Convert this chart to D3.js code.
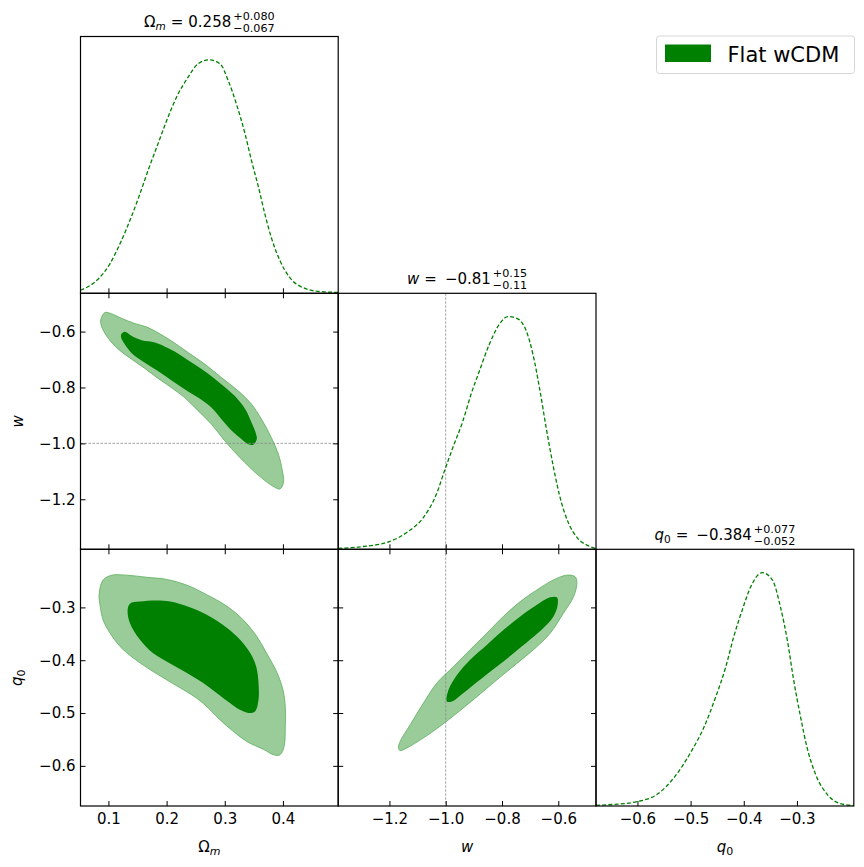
<!DOCTYPE html>
<html>
<head>
<meta charset="utf-8">
<script src="https://cdn.jsdelivr.net/npm/d3@7"></script>
<style>
body { margin: 0; background: #fff; }
text { font-family: "DejaVu Sans", sans-serif; fill: #000; }
</style>
</head>
<body>
<div id="chart"></div>
<script>
// 1D marginals (normalised to peak = 1)
const omGrid = [0.052, 0.082, 0.102, 0.122, 0.139, 0.154, 0.168, 0.185, 0.200, 0.217, 0.237, 0.254, 0.273,
                0.292, 0.306, 0.320, 0.335, 0.346, 0.358, 0.369, 0.380, 0.395, 0.412, 0.438, 0.466, 0.495];
const omDens = [0.013, 0.060, 0.124, 0.224, 0.325, 0.425, 0.525, 0.639, 0.739, 0.840, 0.926, 0.983, 1.0,
                0.983, 0.911, 0.811, 0.682, 0.568, 0.454, 0.339, 0.239, 0.139, 0.067, 0.021, 0.007, 0.004];

const wGrid = [-1.382, -1.294, -1.200, -1.134, -1.081, -1.034, -1.001, -0.975, -0.939, -0.910, -0.880, -0.845,
               -0.809, -0.779, -0.744, -0.714, -0.690, -0.667, -0.643, -0.619, -0.596, -0.566, -0.531, -0.495, -0.466];
const wDens = [0.004, 0.012, 0.033, 0.076, 0.134, 0.234, 0.349, 0.436, 0.551, 0.666, 0.767, 0.881,
               0.968, 1.0, 0.99, 0.939, 0.838, 0.695, 0.522, 0.364, 0.234, 0.119, 0.047, 0.016, 0.003];

const qGrid = [-0.678, -0.644, -0.600, -0.563, -0.531, -0.500, -0.475, -0.453, -0.434, -0.419, -0.403, -0.387,
               -0.365, -0.346, -0.331, -0.318, -0.306, -0.293, -0.281, -0.265, -0.243, -0.218, -0.193];
const qDens = [0.003, 0.007, 0.019, 0.050, 0.122, 0.229, 0.337, 0.466, 0.595, 0.724, 0.839, 0.939,
               1.0, 0.968, 0.853, 0.710, 0.538, 0.380, 0.251, 0.136, 0.050, 0.010, 0.002];

// 2D contours: [x, y] in data units
const omW95 = [[0.087,-0.556],[0.094,-0.532],[0.105,-0.536],[0.122,-0.552],[0.145,-0.571],[0.165,-0.583],
  [0.185,-0.604],[0.208,-0.633],[0.237,-0.675],[0.266,-0.717],[0.294,-0.764],[0.323,-0.812],[0.346,-0.860],
  [0.363,-0.913],[0.380,-0.979],[0.392,-1.038],[0.399,-1.098],[0.401,-1.139],[0.395,-1.163],[0.386,-1.157],
  [0.369,-1.133],[0.346,-1.092],[0.323,-1.044],[0.300,-0.991],[0.277,-0.931],[0.254,-0.883],[0.231,-0.836],
  [0.208,-0.800],[0.185,-0.767],[0.162,-0.731],[0.140,-0.699],[0.117,-0.663],[0.099,-0.622],[0.088,-0.580]];
const omW68 = [[0.122,-0.610],[0.128,-0.601],[0.140,-0.616],[0.157,-0.631],[0.180,-0.639],[0.203,-0.660],
  [0.226,-0.687],[0.249,-0.719],[0.271,-0.750],[0.294,-0.788],[0.317,-0.830],[0.335,-0.877],[0.346,-0.925],
  [0.353,-0.961],[0.355,-0.985],[0.349,-1.005],[0.340,-1.002],[0.329,-0.985],[0.312,-0.955],[0.294,-0.913],
  [0.277,-0.872],[0.254,-0.836],[0.231,-0.806],[0.208,-0.774],[0.185,-0.741],[0.162,-0.711],[0.142,-0.681],
  [0.128,-0.645],[0.122,-0.622]];

const omQ95 = [[0.084,-0.276],[0.091,-0.248],[0.106,-0.239],[0.131,-0.239],[0.166,-0.243],[0.200,-0.247],
  [0.235,-0.258],[0.269,-0.276],[0.304,-0.298],[0.332,-0.324],[0.355,-0.355],[0.372,-0.387],[0.390,-0.424],
  [0.400,-0.456],[0.404,-0.488],[0.404,-0.525],[0.402,-0.563],[0.395,-0.579],[0.384,-0.579],[0.367,-0.569],
  [0.338,-0.554],[0.315,-0.535],[0.292,-0.513],[0.272,-0.491],[0.252,-0.472],[0.229,-0.456],[0.200,-0.437],
  [0.172,-0.418],[0.143,-0.396],[0.120,-0.374],[0.103,-0.349],[0.091,-0.324],[0.086,-0.298]];
const omQ68 = [[0.133,-0.305],[0.137,-0.293],[0.154,-0.289],[0.183,-0.287],[0.206,-0.289],[0.235,-0.298],
  [0.269,-0.314],[0.304,-0.339],[0.326,-0.361],[0.344,-0.387],[0.354,-0.412],[0.358,-0.443],[0.358,-0.475],
  [0.352,-0.497],[0.341,-0.500],[0.326,-0.494],[0.309,-0.481],[0.286,-0.462],[0.263,-0.443],[0.235,-0.424],
  [0.206,-0.406],[0.177,-0.387],[0.154,-0.361],[0.137,-0.330]];

const wQ95 = [[-1.168,-0.566],[-1.162,-0.554],[-1.126,-0.522],[-1.079,-0.481],[-1.031,-0.443],[-0.972,-0.412],
  [-0.913,-0.380],[-0.854,-0.349],[-0.795,-0.317],[-0.735,-0.289],[-0.676,-0.267],[-0.617,-0.248],[-0.570,-0.239],
  [-0.540,-0.242],[-0.534,-0.254],[-0.546,-0.280],[-0.582,-0.311],[-0.629,-0.349],[-0.688,-0.380],[-0.747,-0.406],
  [-0.818,-0.437],[-0.889,-0.469],[-0.960,-0.500],[-1.020,-0.525],[-1.079,-0.547],[-1.138,-0.566],[-1.162,-0.571]];
const wQ68 = [[-0.996,-0.478],[-0.990,-0.456],[-0.960,-0.428],[-0.913,-0.399],[-0.854,-0.371],[-0.795,-0.343],
  [-0.735,-0.317],[-0.676,-0.295],[-0.629,-0.281],[-0.605,-0.281],[-0.602,-0.295],[-0.617,-0.317],[-0.653,-0.339],
  [-0.700,-0.361],[-0.759,-0.387],[-0.818,-0.412],[-0.878,-0.437],[-0.937,-0.462],[-0.978,-0.478]];

const omTicks = [0.1, 0.2, 0.3, 0.4];
const wTicks = [-1.2, -1.0, -0.8, -0.6];
const qTicks = [-0.6, -0.5, -0.4, -0.3];
const refW = -1.0;

const colX = [80.5, 338.2, 596, 853.8];
const rowY = [36.5, 293.3, 549.3, 806];
const green = "#008000", lightGreen = "#99cc99";

const svg = d3.select("#chart").append("svg")
    .attr("width", 864)
    .attr("height", 867);

// scales
const xOm = d3.scaleLinear().domain([0.052, 0.495]).range([colX[0], colX[1]]);
const xW = d3.scaleLinear().domain([-1.382, -0.466]).range([colX[1], colX[2]]);
const xQ = d3.scaleLinear().domain([-0.678, -0.193]).range([colX[2], colX[3]]);
const yW = d3.scaleLinear().domain([-1.379, -0.463]).range([rowY[2], rowY[1]]);
const yQ = d3.scaleLinear().domain([-0.676, -0.190]).range([rowY[3], rowY[2]]);
const yD = r => d3.scaleLinear().domain([0, 1.1]).range([rowY[r + 1], rowY[r]]);

const fmt = d3.format(".1f");

function styleAxis(g) {
  g.select(".domain").remove();
  g.selectAll(".tick line").attr("stroke", "#000").attr("stroke-width", 1);
  g.selectAll("text").attr("font-family", "DejaVu Sans").attr("font-size", 15).attr("fill", "#000");
}

function panel(c, r, x, ticksX, y, ticksY, labelX, labelY) {
  const id = "clip" + c + r;
  svg.append("clipPath").attr("id", id).append("rect")
    .attr("x", colX[c]).attr("y", rowY[r])
    .attr("width", colX[c + 1] - colX[c]).attr("height", rowY[r + 1] - rowY[r]);
  const g = svg.append("g").attr("clip-path", "url(#" + id + ")");

  svg.append("g").attr("transform", `translate(0,${rowY[r + 1]})`)
    .call(d3.axisBottom(x).tickValues(ticksX).tickSize(-5).tickPadding(7).tickFormat(labelX ? fmt : ""))
    .call(styleAxis);
  if (y) {
    svg.append("g").attr("transform", `translate(0,${rowY[r]})`)
      .call(d3.axisTop(x).tickValues(ticksX).tickSize(-5).tickFormat(""))
      .call(styleAxis);
    svg.append("g").attr("transform", `translate(${colX[c]},0)`)
      .call(d3.axisLeft(y).tickValues(ticksY).tickSize(-5).tickPadding(5).tickFormat(labelY ? fmt : ""))
      .call(styleAxis);
    svg.append("g").attr("transform", `translate(${colX[c + 1]},0)`)
      .call(d3.axisRight(y).tickValues(ticksY).tickSize(-5).tickFormat(""))
      .call(styleAxis);
  }
  return g;
}

function border(c, r) {
  svg.append("rect")
    .attr("x", colX[c]).attr("y", rowY[r])
    .attr("width", colX[c + 1] - colX[c]).attr("height", rowY[r + 1] - rowY[r])
    .attr("fill", "none").attr("stroke", "#000").attr("stroke-width", 1.2);
}

function marginal(g, x, y, grid, dens) {
  const line = d3.line().x((d, i) => x(grid[i])).y(d => y(d)).curve(d3.curveMonotoneX);
  g.append("path").datum(dens)
    .attr("fill", "none").attr("stroke", green).attr("stroke-width", 1.3)
    .attr("stroke-dasharray", "4,2.2").attr("d", line);
}

function contours(g, x, y, outer, inner) {
  const area = d3.line().x(d => x(d[0])).y(d => y(d[1])).curve(d3.curveCatmullRomClosed.alpha(0.5));
  g.append("path").datum(outer).attr("d", area)
    .attr("fill", lightGreen).attr("stroke", "#66b366").attr("stroke-width", 0.9);
  g.append("path").datum(inner).attr("d", area).attr("fill", green);
}

function refLine(g, x1, y1, x2, y2) {
  g.append("line").attr("x1", x1).attr("y1", y1).attr("x2", x2).attr("y2", y2)
    .attr("stroke", "#8c8c8c").attr("stroke-width", 0.8).attr("stroke-dasharray", "2.5,1.5");
}

// column 0
const p00 = panel(0, 0, xOm, omTicks, null, null, false, false);
marginal(p00, xOm, yD(0), omGrid, omDens);

const p01 = panel(0, 1, xOm, omTicks, yW, wTicks, false, true);
contours(p01, xOm, yW, omW95, omW68);
refLine(p01, colX[0], yW(refW), colX[1], yW(refW));

const p02 = panel(0, 2, xOm, omTicks, yQ, qTicks, true, true);
contours(p02, xOm, yQ, omQ95, omQ68);

// column 1
const p11 = panel(1, 1, xW, wTicks, null, null, false, false);
refLine(p11, xW(refW), rowY[1], xW(refW), rowY[2]);
marginal(p11, xW, yD(1), wGrid, wDens);

const p12 = panel(1, 2, xW, wTicks, yQ, qTicks, true, false);
contours(p12, xW, yQ, wQ95, wQ68);
refLine(p12, xW(refW), rowY[2], xW(refW), rowY[3]);

// column 2
const p22 = panel(2, 2, xQ, qTicks, null, null, true, false);
marginal(p22, xQ, yD(2), qGrid, qDens);

[[0,0],[0,1],[0,2],[1,1],[1,2],[2,2]].forEach(d => border(d[0], d[1]));

// titles with stacked errors
function title(cx, y, parts, sup, sub) {
  const g = svg.append("g");
  const t = g.append("text").attr("x", 0).attr("y", y).attr("font-size", 15);
  parts.forEach(p => {
    const s = t.append("tspan").text(p.t);
    if (p.it) s.attr("font-style", "italic");
    if (p.size) s.attr("font-size", p.size);
    if (p.dy) s.attr("dy", p.dy);
    if (p.dx) s.attr("dx", p.dx);
  });
  const bb = t.node().getBBox();
  const w0 = bb.x + bb.width;
  const a = g.append("text").attr("x", w0 + 2).attr("y", y - 7.4).attr("font-size", 11.2).text(sup);
  const b = g.append("text").attr("x", w0 + 2).attr("y", y + 5).attr("font-size", 11.2).text(sub);
  const w1 = Math.max(a.node().getComputedTextLength(), b.node().getComputedTextLength());
  g.attr("transform", `translate(${cx - (w0 + 2 + w1) / 2},0)`);
}

title((colX[0] + colX[1]) / 2, rowY[0] - 9.6,
  [{t: "Ω"}, {t: "m", it: true, size: 10.5, dy: 3}, {t: "=", dy: -3, dx: 5}, {t: "0.258", dx: 5}],
  "+0.080", "−0.067");
title((colX[1] + colX[2]) / 2, rowY[1] - 9.3,
  [{t: "w", it: true}, {t: "=", dx: 5}, {t: "−", dx: 8}, {t: "0.81", dx: 0}], "+0.15", "−0.11");
title((colX[2] + colX[3]) / 2, rowY[2] - 9.3,
  [{t: "q", it: true}, {t: "0", size: 10.5, dy: 3}, {t: "=", dy: -3, dx: 5}, {t: "−", dx: 8}, {t: "0.384", dx: 0}],
  "+0.077", "−0.052");

// axis labels
function mathLabel(x, y, rot, parts) {
  const t = svg.append("text")
    .attr("transform", `translate(${x},${y})` + (rot ? " rotate(-90)" : ""))
    .attr("text-anchor", "middle").attr("font-size", 15);
  parts.forEach(p => {
    const s = t.append("tspan").text(p.t);
    if (p.it) s.attr("font-style", "italic");
    if (p.size) s.attr("font-size", p.size);
    if (p.dy) s.attr("dy", p.dy);
  });
}
mathLabel((colX[0] + colX[1]) / 2, 852, false, [{t: "Ω"}, {t: "m", it: true, size: 11, dy: 3}]);
mathLabel((colX[1] + colX[2]) / 2, 852, false, [{t: "w", it: true}]);
mathLabel((colX[2] + colX[3]) / 2, 852, false, [{t: "q", it: true}, {t: "0", size: 11, dy: 3}]);
mathLabel(23, (rowY[1] + rowY[2]) / 2, true, [{t: "w", it: true}]);
mathLabel(22, (rowY[2] + rowY[3]) / 2, true, [{t: "q", it: true}, {t: "0", size: 11, dy: 3}]);

// legend
svg.append("rect")
  .attr("x", 656.5).attr("y", 36).attr("width", 198).attr("height", 37.5)
  .attr("rx", 3).attr("fill", "#fff").attr("stroke", "#d6d6d6").attr("stroke-width", 1);
svg.append("rect")
  .attr("x", 665).attr("y", 44.5).attr("width", 46).attr("height", 17.5)
  .attr("fill", green);
svg.append("text")
  .attr("x", 727.5).attr("y", 61.5).attr("font-size", 21)
  .text("Flat wCDM");
</script>
</body>
</html>
